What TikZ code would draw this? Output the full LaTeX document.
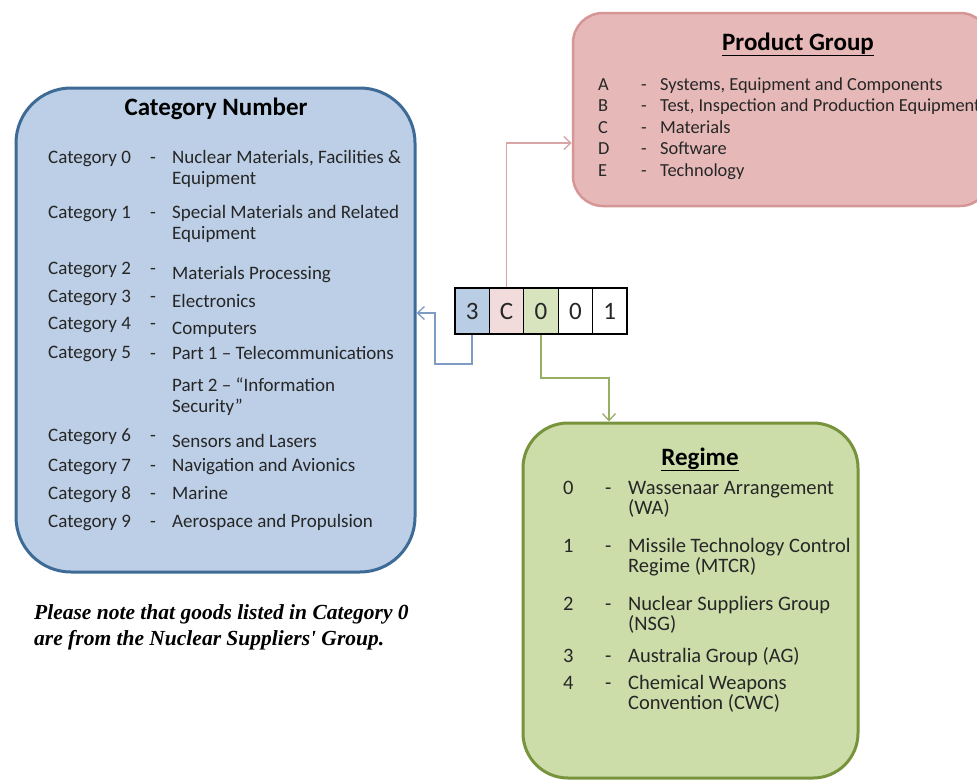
\documentclass[tikz,border=0pt]{standalone}
\usepackage{fontspec}
\setmainfont{Carlito}
\newfontfamily\notefont{Liberation Serif}
\usetikzlibrary{arrows.meta}
\definecolor{bluefill}{RGB}{188,207,230}
\definecolor{blueline}{RGB}{62,106,150}
\definecolor{bluearr}{RGB}{125,155,195}
\definecolor{pinkfill}{RGB}{230,185,184}
\definecolor{pinkline}{RGB}{214,150,150}
\definecolor{pinkarr}{RGB}{215,165,165}
\definecolor{greenfill}{RGB}{205,221,170}
\definecolor{greenline}{RGB}{119,147,60}
\definecolor{greenarr}{RGB}{150,175,100}
\definecolor{cellblue}{RGB}{185,205,229}
\definecolor{cellpink}{RGB}{242,220,219}
\definecolor{cellgreen}{RGB}{215,228,189}
\definecolor{txt}{RGB}{38,38,38}
\tikzset{
  bigbox/.style={draw, line width=3pt, inner sep=0pt},
  lbl/.style={inner sep=0pt, anchor=base west, text=txt, font=\fontsize{19}{21.5}\selectfont, align=left},
  plbl/.style={inner sep=0pt, anchor=base west, text=txt, font=\fontsize{18.4}{21.5}\selectfont, align=left},
  rlbl/.style={inner sep=0pt, anchor=base west, text=txt, font=\fontsize{20.5}{20}\selectfont, align=left},
  ttl/.style={inner sep=0pt, anchor=base, text=black, font=\bfseries\fontsize{25}{28}\selectfont},
  cell/.style={draw=black, line width=1.2pt, minimum width=34.4pt, minimum height=46pt, inner sep=0pt, text=txt, font=\fontsize{25}{30}\selectfont},
  conn/.style={line width=1.5pt, -{Straight Barb[length=7pt,width=13pt,line width=1.3pt]}},
}
\begin{document}
\begin{tikzpicture}[x=1pt,y=-1pt]
\useasboundingbox[fill=white] (0,0) rectangle (977,782);

% boxes
\node[bigbox, fill=bluefill, draw=blueline, rounded corners=55pt, minimum width=399pt, minimum height=484pt] (catbox) at (215.5,330) {};
\node[bigbox, fill=pinkfill, draw=pinkline, line width=2.5pt, rounded corners=30pt, minimum width=417pt, minimum height=193pt] (pgbox) at (781.5,109.5) {};
\node[bigbox, fill=greenfill, draw=greenline, rounded corners=45pt, minimum width=335pt, minimum height=355pt] (rgbox) at (690.5,600.5) {};

% Category Number
\node[ttl] (cattitle) at (216,115) {Category Number};
\node[lbl] (k0) at (48,163) {Category 0};
\node[lbl] (d0) at (150,163) {-};
\node[lbl] (t0) at (172,184.5) {Nuclear Materials, Facilities \&\\Equipment};
\node[lbl] (k1) at (48,218) {Category 1};
\node[lbl] (d1) at (150,218) {-};
\node[lbl] (t1) at (172,239.5) {Special Materials and Related\\Equipment};
\node[lbl] (k2) at (48,274) {Category 2};
\node[lbl] (d2) at (150,274) {-};
\node[lbl] (t2) at (172,279) {Materials Processing};
\node[lbl] (k3) at (48,302) {Category 3};
\node[lbl] (d3) at (150,302) {-};
\node[lbl] (t3) at (172,307) {Electronics};
\node[lbl] (k4) at (48,329) {Category 4};
\node[lbl] (d4) at (150,329) {-};
\node[lbl] (t4) at (172,334) {Computers};
\node[lbl] (k5) at (48,358) {Category 5};
\node[lbl] (d5) at (150,359) {-};
\node[lbl] (t5) at (172,359) {Part 1 -- Telecommunications};
\node[lbl] (t5b) at (172,412.5) {Part 2 -- “Information\\Security”};
\node[lbl] (k6) at (48,441) {Category 6};
\node[lbl] (d6) at (150,441) {-};
\node[lbl] (t6) at (172,447) {Sensors and Lasers};
\node[lbl] (k7) at (48,471) {Category 7};
\node[lbl] (d7) at (150,471) {-};
\node[lbl] (t7) at (172,471) {Navigation and Avionics};
\node[lbl] (k8) at (48,499) {Category 8};
\node[lbl] (d8) at (150,499) {-};
\node[lbl] (t8) at (172,499) {Marine};
\node[lbl] (k9) at (48,527) {Category 9};
\node[lbl] (d9) at (150,527) {-};
\node[lbl] (t9) at (172,527) {Aerospace and Propulsion};

\node[inner sep=0pt, anchor=base west, text=black, align=left, font=\notefont\bfseries\itshape\fontsize{21.5}{26}\selectfont] (note) at (34,645) {Please note that goods listed in Category 0\\are from the Nuclear Suppliers' Group.};

% Product Group
\node[ttl] (pgtitle) at (798,50) {\underline{Product Group}};
\node[plbl] (pa) at (598,90) {A};
\node[plbl] (pda) at (641,90) {-};
\node[plbl] (pta) at (660,90) {Systems, Equipment and Components};
\node[plbl] (pb) at (598,111.5) {B};
\node[plbl] (pdb) at (641,111.5) {-};
\node[plbl] (ptb) at (660,111.5) {Test, Inspection and Production Equipment};
\node[plbl] (pc) at (598,133) {C};
\node[plbl] (pdc) at (641,133) {-};
\node[plbl] (ptc) at (660,133) {Materials};
\node[plbl] (pd) at (598,154.5) {D};
\node[plbl] (pdd) at (641,154.5) {-};
\node[plbl] (ptd) at (660,154.5) {Software};
\node[plbl] (pe) at (598,176) {E};
\node[plbl] (pde) at (641,176) {-};
\node[plbl] (pte) at (660,176) {Technology};

% Regime
\node[ttl] (rgtitle) at (700,465) {\underline{Regime}};
\node[rlbl] (r0) at (563,494) {0};
\node[rlbl] (rd0) at (605,494) {-};
\node[rlbl] (rt0) at (628,514) {Wassenaar Arrangement\\(WA)};
\node[rlbl] (r1) at (563,552) {1};
\node[rlbl] (rd1) at (605,552) {-};
\node[rlbl] (rt1) at (628,572) {Missile Technology Control\\Regime (MTCR)};
\node[rlbl] (r2) at (563,610) {2};
\node[rlbl] (rd2) at (605,610) {-};
\node[rlbl] (rt2) at (628,630) {Nuclear Suppliers Group\\(NSG)};
\node[rlbl] (r3) at (563,662) {3};
\node[rlbl] (rd3) at (605,662) {-};
\node[rlbl] (rt3) at (628,662) {Australia Group (AG)};
\node[rlbl] (r4) at (563,689) {4};
\node[rlbl] (rd4) at (605,689) {-};
\node[rlbl] (rt4) at (628,709) {Chemical Weapons\\Convention (CWC)};

% code cells
\node[cell, fill=cellblue] (c1) at (472.2,311) {3};
\node[cell, fill=cellpink] (c2) at (506.6,311) {C};
\node[cell, fill=cellgreen] (c3) at (541.0,311) {0};
\node[cell, fill=white] (c4) at (575.4,311) {0};
\node[cell, fill=white] (c5) at (609.8,311) {1};

% connectors
\coordinate (b1) at (435,364);
\coordinate (b2) at (435,313);
\draw[conn, bluearr] (c1.south) |- (b1) -- (b2) -- (b2 -| catbox.east);
\coordinate (p1) at (506,143);
\draw[conn, pinkarr] (c2.north) |- (p1 -| pgbox.west);
\coordinate (g1) at (609,378);
\draw[conn, greenarr] (c3.south) |- (g1) -- (g1 |- rgbox.north);
\end{tikzpicture}
\end{document}
